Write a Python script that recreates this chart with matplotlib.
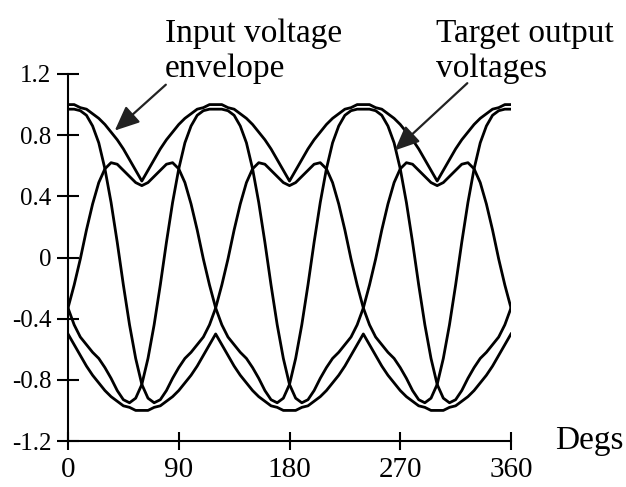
import numpy as np
import matplotlib
matplotlib.use("Agg")
import matplotlib.pyplot as plt

plt.rcParams['font.family'] = ['Liberation Serif', 'DejaVu Serif']

# angle grid (degrees), one sample every 5 deg
degs = np.arange(0, 361, 5)

# input voltage envelope, upper and lower
env_upper = [1.0, 1.0, .98, .97, .94, .91, .87, .82, .77, .71, .64, .57, .5, .57, .64, .71, .77, .82, .87, .91, .94, .97, .98, 1.0,
             1.0, 1.0, .98, .97, .94, .91, .87, .82, .77, .71, .64, .57, .5, .57, .64, .71, .77, .82, .87, .91, .94, .97, .98, 1.0,
             1.0, 1.0, .98, .97, .94, .91, .87, .82, .77, .71, .64, .57, .5, .57, .64, .71, .77, .82, .87, .91, .94, .97, .98, 1.0,
             1.0]
env_lower = [-.5, -.57, -.64, -.71, -.77, -.82, -.87, -.91, -.94, -.97, -.98, -1.0, -1.0, -1.0, -.98, -.97, -.94, -.91, -.87, -.82, -.77, -.71, -.64, -.57,
             -.5, -.57, -.64, -.71, -.77, -.82, -.87, -.91, -.94, -.97, -.98, -1.0, -1.0, -1.0, -.98, -.97, -.94, -.91, -.87, -.82, -.77, -.71, -.64, -.57,
             -.5, -.57, -.64, -.71, -.77, -.82, -.87, -.91, -.94, -.97, -.98, -1.0, -1.0, -1.0, -.98, -.97, -.94, -.91, -.87, -.82, -.77, -.71, -.64, -.57,
             -.5]

# target output voltages, three phases
out_a = [.97, .97, .96, .93, .86, .75, .58, .36, .10, -.18, -.44, -.66, -.83,
         -.92, -.95, -.93, -.87, -.79, -.72, -.66, -.62, -.57, -.52, -.44, -.33,
         -.18, -.01, .18, .35, .49, .58, .62, .61, .57, .53, .49, .47,
         .49, .53, .57, .61, .62, .58, .49, .35, .18, -.01, -.18, -.33,
         -.44, -.52, -.57, -.62, -.66, -.72, -.79, -.87, -.93, -.95, -.92, -.83,
         -.66, -.44, -.18, .10, .36, .58, .75, .86, .93, .96, .97, .97]
out_b = [-.33, -.18, -.01, .18, .35, .49, .58, .62, .61, .57, .53, .49, .47,
         .49, .53, .57, .61, .62, .58, .49, .35, .18, -.01, -.18, -.33,
         -.44, -.52, -.57, -.62, -.66, -.72, -.79, -.87, -.93, -.95, -.92, -.83,
         -.66, -.44, -.18, .10, .36, .58, .75, .86, .93, .96, .97,
         .97, .97, .96, .93, .86, .75, .58, .36, .10, -.18, -.44, -.66, -.83,
         -.92, -.95, -.93, -.87, -.79, -.72, -.66, -.62, -.57, -.52, -.44, -.33]
out_c = [-.33, -.44, -.52, -.57, -.62, -.66, -.72, -.79, -.87, -.93, -.95, -.92, -.83,
         -.66, -.44, -.18, .10, .36, .58, .75, .86, .93, .96, .97,
         .97, .97, .96, .93, .86, .75, .58, .36, .10, -.18, -.44, -.66, -.83,
         -.92, -.95, -.93, -.87, -.79, -.72, -.66, -.62, -.57, -.52, -.44, -.33,
         -.18, -.01, .18, .35, .49, .58, .62, .61, .57, .53, .49, .47,
         .49, .53, .57, .61, .62, .58, .49, .35, .18, -.01, -.18, -.33]

xticks = [0, 90, 180, 270, 360]
yticks = [-1.2, -0.8, -0.4, 0, 0.4, 0.8, 1.2]
ylabels = ["-1.2", "-0.8", "-0.4", "0", "0.4", "0.8", "1.2"]

W, H = 626, 487
fig = plt.figure(figsize=(W / 100, H / 100), dpi=100)
ax = fig.add_axes([68 / W, 1 - 441 / H, (511 - 68) / W, (441 - 74) / H])

lw = 2.0
for series in (env_upper, env_lower, out_a, out_b, out_c):
    ax.plot(degs, series, color='black', lw=lw, solid_joinstyle='round')

ax.set_xlim(0, 360)
ax.set_ylim(-1.2, 1.2)
for s in ('top', 'right'):
    ax.spines[s].set_visible(False)
for s in ('left', 'bottom'):
    ax.spines[s].set_linewidth(1.5)

ax.set_xticks(xticks)
ax.set_xticklabels([str(t) for t in xticks])
ax.set_yticks(yticks)
ax.set_yticklabels(ylabels)
ax.tick_params(axis='x', direction='inout', length=13, width=1.5, pad=5, labelsize=21)
ax.tick_params(axis='y', direction='inout', length=16, width=1.5, pad=4, labelsize=18)

# annotations
fs = 24
fig.text(165 / W, 1 - 42 / H, "Input voltage", fontsize=fs, ha='left', va='baseline')
fig.text(165 / W, 1 - 77 / H, "envelope", fontsize=fs, ha='left', va='baseline')
fig.text(436 / W, 1 - 42 / H, "Target output", fontsize=fs, ha='left', va='baseline')
fig.text(436 / W, 1 - 77 / H, "voltages", fontsize=fs, ha='left', va='baseline')
fig.text(555 / W, 1 - 449 / H, "Degs", fontsize=fs, ha='left', va='baseline')

arrow = dict(arrowstyle='-|>,head_length=0.5,head_width=0.22', color='#222222', lw=1.6,
             mutation_scale=30, shrinkA=0, shrinkB=0)
ax.annotate('', xy=(38, 0.83), xytext=(79.5, 1.13), arrowprops=arrow, annotation_clip=False)
ax.annotate('', xy=(265.5, 0.70), xytext=(324.5, 1.14), arrowprops=arrow, annotation_clip=False)

fig.savefig("out.png", dpi=100)
